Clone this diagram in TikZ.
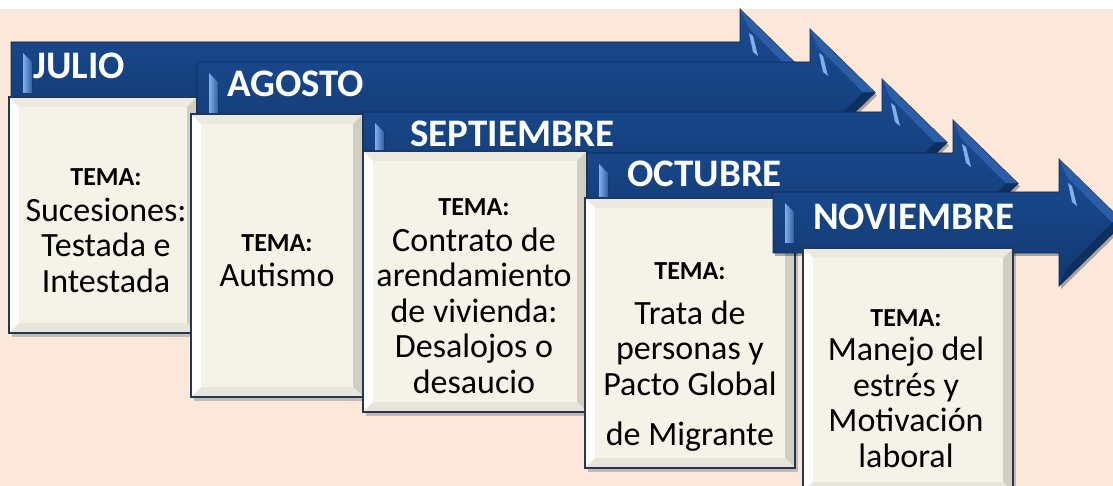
\documentclass[tikz,border=0pt]{standalone}
\usepackage{fontspec}
\setmainfont{Carlito}
\usetikzlibrary{positioning}

\definecolor{fondo}{RGB}{252,232,218}
\definecolor{azulsup}{RGB}{27,76,146}
\definecolor{azulinf}{RGB}{17,56,112}
\definecolor{azulborde}{RGB}{12,40,84}
\definecolor{azulbisel}{RGB}{44,94,168}
\definecolor{azulbrillo}{RGB}{130,175,230}
\definecolor{crema}{RGB}{245,243,232}
\definecolor{cremagris}{RGB}{208,205,193}
\definecolor{cremaclaro}{RGB}{236,234,224}
\definecolor{bordecaja}{RGB}{36,56,86}

\newcommand{\tema}{{\fontsize{26}{28}\selectfont\bfseries TEMA:}}

\newcommand{\flecha}[3]{%
	\fill[black,opacity=.3,shift={(2,3)}] (#1,#2) -- (#3,#2) -- (#3,{#2-33}) -- ({#3+65},{#2+30.5}) -- (#3,{#2+94}) -- (#3,{#2+61}) -- (#1,{#2+61}) -- cycle;
	\path[draw=azulborde,line width=.8,top color=azulsup,bottom color=azulinf] (#1,#2) -- (#3,#2) -- (#3,{#2-33}) -- ({#3+65},{#2+30.5}) -- (#3,{#2+94}) -- (#3,{#2+61}) -- (#1,{#2+61}) -- cycle;
	\fill[azulbisel] (#3,{#2-33}) -- ({#3+65},{#2+30.5}) -- ({#3+53},{#2+30.5}) -- ({#3+8},{#2-15}) -- cycle;
	\fill[azulinf!85!black] (#3,{#2+94}) -- ({#3+65},{#2+30.5}) -- ({#3+53},{#2+30.5}) -- ({#3+8},{#2+76}) -- cycle;
	\fill[left color=azulbrillo,right color=azulbisel] ({#1+12},{#2+11}) -- ({#1+21},{#2+20}) -- ({#1+21},{#2+51}) -- ({#1+12},{#2+51}) -- cycle;
	\fill[azulbrillo] ({#3+9},{#2-9}) -- ({#3+13},{#2-6}) -- ({#3+18},{#2+14}) -- ({#3+13},{#2+10}) -- cycle;
}

\newcommand{\caja}[4]{%
	\fill[black,opacity=.2,shift={(3,4)}] (#1,#2) rectangle (#3,#4);
	\fill[white] (#1,#2) rectangle (#3,#4);
	\fill[cremaclaro] (#1,#2) -- (#3,#2) -- ({#3-10},{#2+10}) -- ({#1+10},{#2+10}) -- cycle;
	\fill[cremagris] (#3,#2) -- (#3,#4) -- ({#3-10},{#4-10}) -- ({#3-10},{#2+10}) -- cycle;
	\fill[cremaclaro!85!cremagris] (#1,#4) -- (#3,#4) -- ({#3-10},{#4-10}) -- ({#1+10},{#4-10}) -- cycle;
	\fill[crema] ({#1+10},{#2+10}) rectangle ({#3-10},{#4-10});
	\draw[bordecaja,line width=1.5] (#1,#2) rectangle (#3,#4);
}

\begin{document}
\begin{tikzpicture}[
		x=1pt,
		y=-1pt,
		mes/.style={text=white, font=\fontsize{39}{40}\selectfont\bfseries, inner sep=0pt, anchor=base west},
		tema node/.style={align=center, font=\fontsize{34}{35.5}\selectfont, inner sep=0pt, anchor=base}
		]
		\useasboundingbox (0,0) rectangle (1113,486);
		\clip (0,0) rectangle (1113,486);
		\fill[fondo] (0,9) rectangle (1113,486);
		
		\flecha{11}{42}{740}
		\caja{9}{97}{197}{333}
		\node[mes] (julio) at (33,79) {JULIO};
		\node[tema node] (tema1) at (106,292) {\tema\\Sucesiones:\\Testada e\\Intestada};
		
		\flecha{197}{62}{810}
		\caja{191}{114}{363}{397}
		\node[mes] (agosto) at (227,97) {AGOSTO};
		\node[tema node] (tema2) at (277,287) {\tema\\Autismo};
		
		\flecha{363}{112}{882}
		\caja{363}{151}{587}{412}
		\node[mes] (septiembre) at (410,147) {SEPTIEMBRE};
		\node[tema node] (tema3) at (474,393) {\tema\\Contrato de\\arendamiento\\de vivienda:\\Desalojos o\\desaucio};
		
		\flecha{587}{153}{953}
		\caja{585}{198}{795}{468}
		\node[mes] (octubre) at (627,187) {OCTUBRE};
		\node[tema node] (tema4) at (690,445) {\tema\\[9.5pt]Trata de\\personas y\\Pacto Global\\[14.5pt]de Migrante};
		
		\flecha{773}{192}{1059}
		\caja{803}{248}{1013}{492}
		\node[mes] (noviembre) at (813,230) {NOVIEMBRE};
		\node[tema node] (tema5) at (906,467) {\tema\\[-1pt]Manejo del\\estrés y\\Motivación\\laboral};
	\end{tikzpicture}
\end{document}
